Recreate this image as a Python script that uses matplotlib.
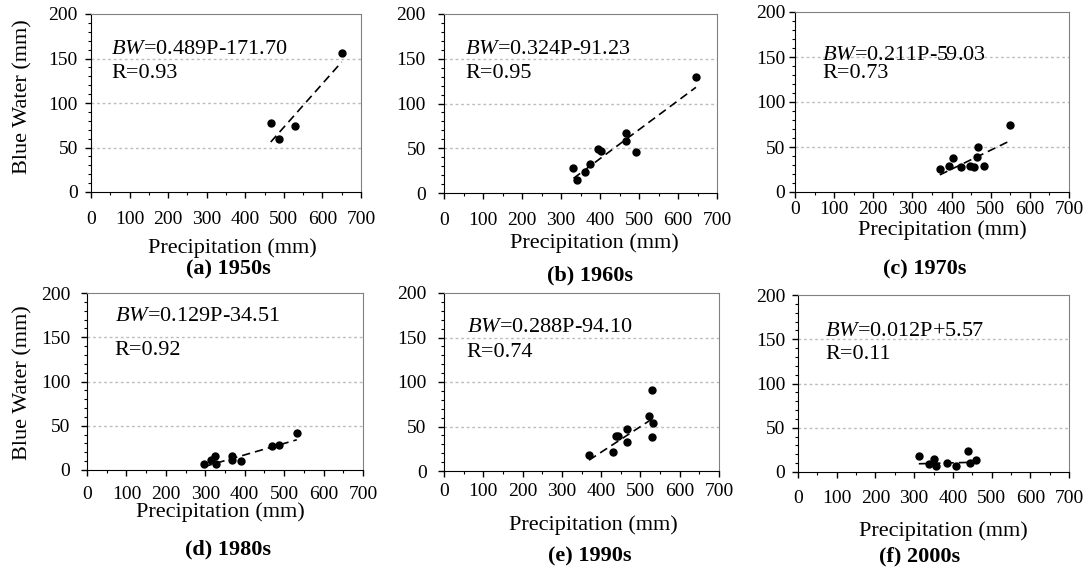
import matplotlib
matplotlib.use('Agg')
import matplotlib.pyplot as plt
from matplotlib.ticker import MultipleLocator

plt.rcParams['font.family'] = ['Liberation Serif', 'DejaVu Serif']
plt.rcParams['mathtext.fontset'] = 'custom'
plt.rcParams['mathtext.rm'] = 'Liberation Serif'
plt.rcParams['mathtext.it'] = 'Liberation Serif:italic'

# data: precipitation (mm) and blue water (mm) per decade
decades = ['(a) 1950s', '(b) 1960s', '(c) 1970s', '(d) 1980s', '(e) 1990s', '(f) 2000s']

p_1950s = [466, 487, 530, 650]
bw_1950s = [77, 59, 74, 156]

p_1960s = [332, 342, 362, 374, 396, 402, 467, 467, 492, 646]
bw_1960s = [28, 14, 23, 32, 49, 47, 67, 58, 46, 130]

p_1970s = [370, 394, 404, 423, 447, 458, 464, 468, 483, 549]
bw_1970s = [26, 29, 38, 28, 29, 28, 39, 50, 29, 74]

p_1980s = [296, 314, 325, 327, 369, 368, 390, 469, 488, 532]
bw_1980s = [7, 11, 16, 7, 16, 11, 10, 27, 28, 42]

p_1990s = [369, 431, 437, 444, 467, 465, 523, 529, 533, 529]
bw_1990s = [18, 21, 39, 39, 33, 47, 62, 91, 54, 38]

p_2000s = [312, 339, 350, 357, 386, 408, 440, 443, 460]
bw_2000s = [18, 9, 15, 7, 10, 7, 24, 10, 14]

precip = [p_1950s, p_1960s, p_1970s, p_1980s, p_1990s, p_2000s]
blue = [bw_1950s, bw_1960s, bw_1970s, bw_1980s, bw_1990s, bw_2000s]

slopes = [0.489, 0.324, 0.211, 0.129, 0.288, 0.012]
intercepts = [-171.70, -91.23, -59.03, -34.51, -94.10, 5.57]
r_values = [0.93, 0.95, 0.73, 0.92, 0.74, 0.11]

# layout, in pixels of the 1090x568 picture
W, H = 1090.0, 568.0
boxes = [(91, 14, 361, 192), (444, 14, 717, 193), (795, 12, 1069, 192),
         (87, 293, 363, 470), (444, 293, 719, 471), (798, 295, 1069, 472)]
xlab_pos = [(232, 248), (594, 243), (942, 230), (220, 512), (593, 525), (943, 531)]
title_pos = [(228, 269), (590, 275), (925, 269), (228, 549), (590, 556), (920, 556)]
xpads = [10, 9.5, 2.5, 7.5, 4.5, 9]
ypads = [5.5, 9, 3, 8, 8.5, 5]
txt_x = [0.074, 0.077, 0.10, 0.10, 0.083, 0.10]
txt_y1 = [155, 155, 147, 168, 156, 154]
txt_y2 = [128, 128, 127, 130, 128, 128]

fig = plt.figure(figsize=(10.9, 5.68), dpi=100)

for i in range(6):
    l, t, r, b = boxes[i]
    ax = fig.add_axes([l / W, 1 - b / H, (r - l) / W, (b - t) / H])

    x = precip[i]
    y = blue[i]
    ax.plot(x, y, 'o', color='black', markersize=5, zorder=3)

    # fitted line over the range of the points
    x0, x1 = min(x), max(x)
    ax.plot([x0, x1], [slopes[i] * x0 + intercepts[i], slopes[i] * x1 + intercepts[i]],
            color='black', linewidth=1.2, dashes=(5, 3), zorder=2)

    ax.set_xlim(0, 700)
    ax.set_ylim(0, 200)
    ax.xaxis.set_major_locator(MultipleLocator(100))
    ax.xaxis.set_minor_locator(MultipleLocator(50))
    ax.yaxis.set_major_locator(MultipleLocator(50))
    ax.yaxis.set_minor_locator(MultipleLocator(10))
    ax.tick_params(axis='both', which='major', direction='out', length=4, width=1, labelsize=14)
    ax.tick_params(axis='both', which='minor', direction='out', length=2.5, width=0.8)
    ax.tick_params(axis='x', which='major', pad=xpads[i])
    ax.tick_params(axis='y', which='major', pad=ypads[i])

    for yy in [50, 100, 150]:
        ax.axhline(yy, color='#bdbdbd', linewidth=1, linestyle=(0, (2, 2)), zorder=1)

    ax.spines['left'].set_color('black')
    ax.spines['bottom'].set_color('black')
    ax.spines['top'].set_color('#808080')
    ax.spines['right'].set_color('#808080')

    eq = r'$\it{BW}$' + '=%.3fP%+.2f' % (slopes[i], intercepts[i])
    ax.text(txt_x[i], txt_y1[i], eq, transform=ax.get_yaxis_transform(),
            fontsize=16, va='baseline', ha='left')
    ax.text(txt_x[i], txt_y2[i], 'R=%.2f' % r_values[i], transform=ax.get_yaxis_transform(),
            fontsize=16, va='baseline', ha='left')

    fig.text(xlab_pos[i][0] / W, 1 - xlab_pos[i][1] / H, 'Precipitation (mm)',
             fontsize=16, ha='center', va='center')
    fig.text(title_pos[i][0] / W, 1 - title_pos[i][1] / H, decades[i],
             fontsize=16, fontweight='bold', ha='center', va='center')

fig.text(23 / W, 1 - 97 / H, 'Blue Water (mm)', fontsize=16, rotation=90, ha='center', va='center')
fig.text(23 / W, 1 - 383 / H, 'Blue Water (mm)', fontsize=16, rotation=90, ha='center', va='center')

fig.savefig('out.png', dpi=100)
